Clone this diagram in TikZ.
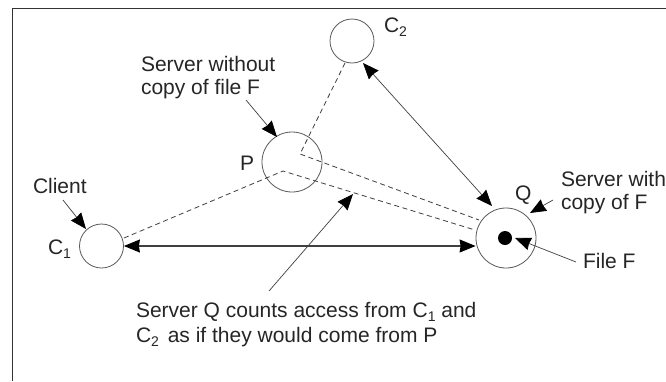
\documentclass[tikz,border=0pt]{standalone}
\usepackage{fontspec}
\setmainfont{Liberation Sans}
\usetikzlibrary{arrows.meta}
\newcommand{\lowsub}[1]{\smash{\raisebox{-0.2em}{\fontsize{14}{15}\selectfont #1}}}
\tikzset{
  site/.style={circle,draw=black!65,line width=0.8pt,fill=none,inner sep=0pt},
  lbl/.style={anchor=base west,inner sep=0pt,outer sep=0pt,font=\fontsize{21}{25}\selectfont,text=black!85},
  link/.style={draw=black!75,line width=0.8pt,dash pattern=on 5pt off 3.5pt},
  arr/.style={draw=black!75,line width=0.7pt,-{Stealth[length=16pt,width=13pt,inset=1pt,color=black]}},
  biarr/.style={draw=black!75,line width=0.7pt,{Stealth[length=16pt,width=13pt,inset=1pt,color=black]}-{Stealth[length=16pt,width=13pt,inset=1pt,color=black]}}
}
\begin{document}
\begin{tikzpicture}[x=1pt,y=-1pt]
\useasboundingbox (0,0) rectangle (666,381);
\fill[white] (0,0) rectangle (666,381);
\draw[black!80,line width=0.8pt] (12.5,381) -- (12.5,8) -- (666,8);
\node[site,minimum size=44pt] (c2) at (352,41) {};
\node[site,minimum size=60pt] (p) at (292,162) {};
\node[site,minimum size=60pt] (q) at (506,238) {};
\node[site,minimum size=44pt] (c1) at (101.5,246) {};
\node[circle,fill=black,inner sep=0pt,minimum size=14pt] (f) at (505,238) {};
\coordinate (pa) at (300,154);
\coordinate (pb) at (283,171);
\coordinate (qa) at (479,220);
\coordinate (qb) at (475,230);
\coordinate (c2d) at (345,63);
\coordinate (c1d) at (124,238);
\draw[link] (c2d) -- (pa) -- (qa);
\draw[link] (c1d) -- (pb) -- (qb);
\draw[biarr,line width=1.1pt] (c1.east) -- (c1.east -| q.west);
\coordinate (c2a) at (363,63);
\coordinate (qc) at (492,206);
\draw[biarr] (c2a) -- (qc);
\node[lbl] (tc2) at (384,32) {C\lowsub{2}};
\node[lbl] (tp) at (240,170) {P};
\node[lbl] (tq) at (515,200) {Q};
\node[lbl] (tc1) at (48,254) {C\lowsub{1}};
\node[lbl] (tclient) at (33,193) {Client};
\node[lbl] (ts1) at (141,71) {Server without};
\node[lbl] (ts2) at (141,94) {copy of file F};
\node[lbl] (tw1) at (561,186) {Server with};
\node[lbl] (tw2) at (561,209) {copy of F};
\node[lbl] (tf) at (583,268) {File F};
\node[lbl] (tn1) at (136,317.5) {Server Q counts access from C\lowsub{1} and};
\node[lbl] (tn2) at (136,342) {C\lowsub{2}\hspace{3pt} as if they would come from P};
\coordinate (a1) at (63,200);
\coordinate (a2) at (246,100);
\coordinate (a3) at (553,200);
\coordinate (a4) at (576,262);
\coordinate (a5) at (269,291);
\coordinate (b1) at (86,229);
\coordinate (b2) at (277,137);
\coordinate (b3) at (530,213);
\coordinate (b4) at (515,238);
\coordinate (b5) at (353,194);
\draw[arr] (a1) -- (b1);
\draw[arr] (a2) -- (b2);
\draw[arr] (a3) -- (b3);
\draw[arr] (a4) -- (b4);
\draw[arr] (a5) -- (b5);
\end{tikzpicture}
\end{document}
